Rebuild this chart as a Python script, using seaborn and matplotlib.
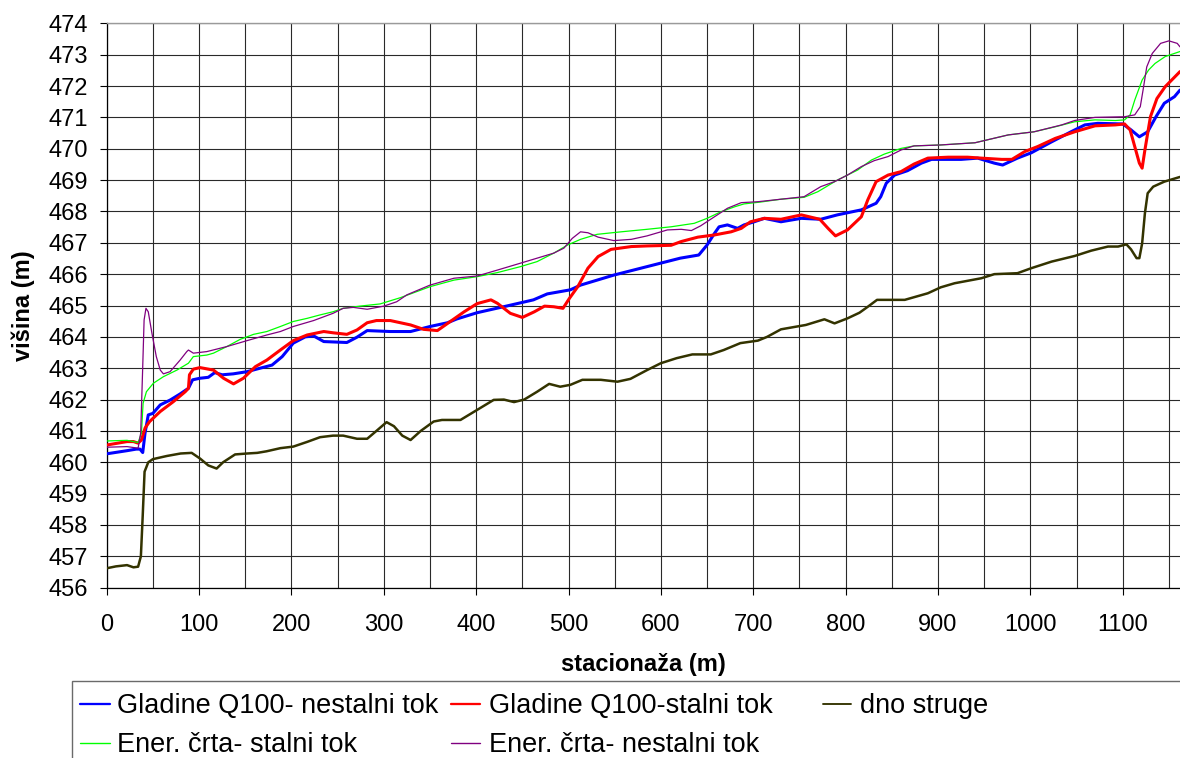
import matplotlib
matplotlib.use("Agg")
import matplotlib.pyplot as plt
from matplotlib.lines import Line2D
from matplotlib.patches import Rectangle
from matplotlib.ticker import MultipleLocator
import seaborn as sns

# Stationing (m) and elevations (m) along the channel
bed_x = [0, 10, 22, 29, 34, 37, 39, 41, 45, 50, 65, 80, 92, 101, 110, 119, 126, 139, 152, 163,
         173, 188, 202, 217, 231, 245, 256, 271, 282, 292, 303, 311, 320, 329, 340, 354, 363, 383,
         401, 419, 430, 441, 452, 466, 479, 491, 502, 515, 535, 553, 567, 585, 600, 617, 634, 654,
         668, 686, 705, 715, 730, 757, 777, 788, 802, 815, 824, 834, 864, 889, 903, 918, 947, 961,
         986, 1001, 1023, 1048, 1066, 1084, 1095, 1104, 1109, 1115, 1118, 1121, 1124, 1127, 1133,
         1145, 1162]
bed_y = [456.62, 456.68, 456.72, 456.65, 456.67, 457.0, 458.3, 459.7, 460.0, 460.1, 460.2, 460.28,
         460.3, 460.12, 459.9, 459.8, 460.0, 460.25, 460.28, 460.3, 460.35, 460.45, 460.5, 460.65,
         460.8, 460.85, 460.85, 460.75, 460.75, 461.0, 461.28, 461.15, 460.85, 460.71, 461.0, 461.3,
         461.35, 461.35, 461.67, 461.99, 462.0, 461.92, 462.0, 462.25, 462.5, 462.41, 462.47, 462.63,
         462.63, 462.57, 462.66, 462.94, 463.16, 463.32, 463.44, 463.44, 463.58, 463.8, 463.88, 464.0,
         464.24, 464.38, 464.56, 464.43, 464.59, 464.77, 464.96, 465.18, 465.18, 465.39, 465.58,
         465.71, 465.87, 466.0, 466.03, 466.19, 466.4, 466.58, 466.75, 466.88, 466.88, 466.95, 466.79,
         466.51, 466.51, 466.98, 467.94, 468.58, 468.79, 468.95, 469.1]

unsteady_x = [0, 22, 32, 36, 39, 41.5, 45, 50, 58, 69, 79.5, 88.5, 93, 101, 110, 117, 125, 137,
              152, 166, 179, 190, 202, 215, 224, 235, 260, 271, 282, 307, 329, 350, 369, 379, 401,
              434, 462, 477, 502, 513, 549, 585, 621, 641, 650, 658, 663, 672, 683, 690, 701, 712,
              730, 752, 773, 791, 817, 833, 838, 844, 853, 867, 882, 893, 925, 943, 961, 970, 986,
              1001, 1023, 1044, 1059, 1073, 1100, 1109, 1118, 1127, 1136, 1145, 1156, 1162]
unsteady_y = [460.27, 460.37, 460.42, 460.42, 460.31, 460.93, 461.51, 461.56, 461.83, 461.99,
              462.18, 462.36, 462.63, 462.68, 462.71, 462.86, 462.79, 462.82, 462.89, 463.0, 463.1,
              463.37, 463.8, 464.0, 464.03, 463.85, 463.82, 463.99, 464.2, 464.17, 464.17, 464.33,
              464.45, 464.57, 464.77, 464.99, 465.18, 465.37, 465.5, 465.65, 465.97, 466.24, 466.51,
              466.61, 466.93, 467.3, 467.51, 467.57, 467.46, 467.57, 467.67, 467.78, 467.67, 467.78,
              467.75, 467.89, 468.05, 468.26, 468.47, 468.9, 469.16, 469.3, 469.54, 469.66, 469.66,
              469.7, 469.54, 469.48, 469.7, 469.87, 470.22, 470.54, 470.76, 470.81, 470.79, 470.6,
              470.38, 470.54, 471.02, 471.45, 471.66, 471.87]

steady_x = [0, 22, 29, 34, 37.6, 41.5, 46.5, 58, 72, 85, 88.5, 89.6, 93.8, 101, 115.6, 126.5,
            137.3, 148, 161, 173.4, 188, 202, 217, 235, 245, 260, 271, 282, 292, 307, 329, 343, 358,
            372, 387, 401, 416, 423, 437, 450, 463, 474, 484, 494, 501, 510, 521, 532, 546, 568,
            585, 611, 622, 640, 658, 676, 687, 697, 712, 730, 752, 772, 781, 789, 802, 817, 824,
            833, 846, 860, 874, 889, 911, 932, 947, 969, 980, 994, 1008, 1027, 1048, 1070, 1092,
            1102, 1108, 1113, 1118, 1121, 1124, 1130, 1137, 1146, 1162]
steady_y = [460.55, 460.66, 460.66, 460.61, 460.71, 461.09, 461.3, 461.62, 461.93, 462.25, 462.36,
            462.79, 462.97, 463.02, 462.94, 462.68, 462.5, 462.68, 463.05, 463.26, 463.58, 463.88,
            464.06, 464.17, 464.13, 464.08, 464.22, 464.45, 464.52, 464.52, 464.38, 464.24, 464.2,
            464.49, 464.8, 465.06, 465.18, 465.07, 464.75, 464.62, 464.8, 464.98, 464.96, 464.91,
            465.23, 465.6, 466.19, 466.56, 466.79, 466.88, 466.9, 466.92, 467.04, 467.18, 467.25,
            467.35, 467.46, 467.67, 467.78, 467.75, 467.89, 467.75, 467.46, 467.22, 467.41, 467.83,
            468.37, 468.95, 469.16, 469.27, 469.51, 469.7, 469.73, 469.73, 469.7, 469.66, 469.66,
            469.91, 470.07, 470.33, 470.54, 470.73, 470.76, 470.79, 470.6, 470.07, 469.54, 469.38,
            469.96, 471.02, 471.6, 471.98, 472.46]

energy_steady_x = [0, 22, 34, 37.6, 39.4, 43, 50.5, 61.4, 76, 88.5, 93.8, 108.4, 115.6, 130, 144.5,
                   159, 173.4, 188, 202, 217, 231, 245, 256, 274, 296, 318, 350, 376, 401, 423, 448,
                   466, 484, 499, 513, 531, 557, 585, 611, 636, 650, 665, 680, 690, 708, 730, 755,
                   770, 791, 813, 828, 842, 860, 874, 903, 940, 976, 1004, 1027, 1048, 1070, 1092,
                   1102, 1108, 1113, 1121, 1128, 1135, 1146, 1162]
energy_steady_y = [460.68, 460.7, 460.63, 460.93, 461.88, 462.25, 462.52, 462.73, 462.94, 463.16,
                   463.37, 463.42, 463.48, 463.69, 463.92, 464.08, 464.17, 464.33, 464.49, 464.59,
                   464.7, 464.8, 464.91, 464.98, 465.05, 465.25, 465.6, 465.81, 465.92, 466.05,
                   466.24, 466.4, 466.67, 466.93, 467.11, 467.27, 467.35, 467.43, 467.51, 467.62,
                   467.78, 467.99, 468.15, 468.24, 468.3, 468.39, 468.45, 468.63, 469.0, 469.32,
                   469.64, 469.83, 470.01, 470.09, 470.12, 470.19, 470.44, 470.54, 470.7, 470.86,
                   470.92, 470.9, 470.92, 471.08, 471.55, 472.19, 472.51, 472.72, 472.94, 473.1]

energy_unsteady_x = [0, 22, 34, 36.8, 39, 40.5, 42.5, 45, 49, 53.7, 58, 61.4, 68.6, 79.5, 86.7,
                     88.5, 93.8, 108.4, 130, 152, 173.4, 188, 202, 224, 245, 256, 267, 282, 300,
                     314, 325, 350, 376, 401, 423, 448, 484, 495, 504, 513, 521, 532, 549, 568, 585,
                     607, 622, 633, 643, 658, 672, 687, 705, 730, 755, 773, 788, 802, 817, 831, 846,
                     860, 874, 903, 940, 976, 1004, 1034, 1048, 1070, 1102, 1113, 1119, 1122, 1126,
                     1132, 1141, 1150, 1159, 1162]
energy_unsteady_y = [460.48, 460.5, 460.45, 460.93, 463.05, 464.54, 464.91, 464.8, 464.11, 463.37,
                     462.94, 462.82, 462.89, 463.26, 463.53, 463.58, 463.48, 463.53, 463.69, 463.88,
                     464.06, 464.17, 464.33, 464.52, 464.75, 464.91, 464.94, 464.88, 464.98, 465.12,
                     465.34, 465.65, 465.87, 465.94, 466.13, 466.35, 466.67, 466.83, 467.14, 467.35,
                     467.32, 467.18, 467.07, 467.11, 467.22, 467.41, 467.43, 467.39, 467.54, 467.83,
                     468.1, 468.28, 468.31, 468.39, 468.47, 468.79, 468.95, 469.16, 469.43, 469.62,
                     469.75, 469.96, 470.09, 470.12, 470.19, 470.44, 470.54, 470.76, 470.9, 471.0,
                     471.02, 471.08, 471.34, 471.87, 472.61, 473.04, 473.36, 473.44, 473.36, 473.25]

labels = ["Gladine Q100- nestalni tok", "Gladine Q100-stalni tok", "dno struge",
          "Ener. črta- stalni tok", "Ener. črta- nestalni tok"]
x_ticks = list(range(0, 1101, 100))
y_ticks = list(range(456, 475))

sns.set_style("white")
plt.rcParams["font.family"] = ["Liberation Sans", "DejaVu Sans"]
plt.rcParams["text.color"] = "black"
plt.rcParams["axes.labelcolor"] = "black"
plt.rcParams["xtick.color"] = "black"
plt.rcParams["ytick.color"] = "black"

W, H = 1180, 758
fig = plt.figure(figsize=(W / 100, H / 100), dpi=100)
ax = fig.add_axes([106.7 / W, 1 - 587.7 / H, (W - 106.7) / W, (587.7 - 23.3) / H])

series = [
    (unsteady_x, unsteady_y, "#0000ff", 2.2),
    (steady_x, steady_y, "#ff0000", 2.2),
    (bed_x, bed_y, "#333300", 1.8),
    (energy_steady_x, energy_steady_y, "#00ff00", 0.9),
    (energy_unsteady_x, energy_unsteady_y, "#800080", 0.9),
]
for (xs, ys, col, lw) in series:
    sns.lineplot(x=xs, y=ys, ax=ax, color=col, linewidth=lw, estimator=None,
                 legend=False, zorder=3)

ax.set_xlim(0, 1162)
ax.set_ylim(456, 474)
ax.set_xticks(x_ticks)
ax.set_xticklabels([str(v) for v in x_ticks])
ax.set_yticks(y_ticks)
ax.set_yticklabels([str(v) for v in y_ticks])
ax.xaxis.set_minor_locator(MultipleLocator(50))

grid_kw = dict(color="#2a2a2a", linewidth=0.8, zorder=1)
ax.grid(True, which="both", axis="x", **grid_kw)
ax.grid(True, which="major", axis="y", **grid_kw)
ax.set_axisbelow(True)

ax.tick_params(axis="both", which="major", direction="out", length=5, width=0.8,
               color="#000000", labelcolor="#000000", labelsize=17, left=True, bottom=True)
ax.tick_params(axis="x", which="major", pad=14)
ax.tick_params(axis="y", which="major", pad=8.5)
ax.tick_params(axis="x", which="minor", length=0)

for side in ("left", "bottom"):
    ax.spines[side].set_color("#000000")
    ax.spines[side].set_linewidth(0.9)
ax.spines["top"].set_color("#9a9a9a")
ax.spines["top"].set_linewidth(1.0)
ax.spines["right"].set_visible(False)

ax.set_xlabel("stacionaža (m)", fontsize=17, fontweight="bold", va="center", color="black")
ax.xaxis.set_label_coords(0.5, -(665 - 587.7) / 564.4)
ax.set_ylabel("višina (m)", fontsize=17, fontweight="bold", va="center", color="black")
ax.yaxis.set_label_coords((23 - 106.7) / (W - 106.7), 0.5)

# Legend box running off the lower right edge, entries laid out in equal-width columns
fig.add_artist(Rectangle((71.7 / W, -0.05), 1.2, (1 - 681 / H) + 0.05,
                         transform=fig.transFigure, fill=False, edgecolor="#6a6a6a",
                         linewidth=1.0, clip_on=False))
handle_cols = [(80, 110), (451, 480), (823, 851)]
text_cols = [117, 489, 860]
rows = [(703.5, 713.3), (743.3, 751.7)]
for i, (label, (_, _, col, lw)) in enumerate(zip(labels, series)):
    r, c = divmod(i, 3)
    hy, by = rows[r]
    x0, x1 = handle_cols[c]
    fig.add_artist(Line2D([x0 / W, x1 / W], [1 - hy / H, 1 - hy / H],
                          transform=fig.transFigure, color=col,
                          linewidth=max(lw * 0.75, 1.0)))
    fig.text(text_cols[c] / W, 1 - by / H, label, fontsize=19.5, va="baseline", ha="left",
             color="black")

fig.savefig("out.png", dpi=100)
